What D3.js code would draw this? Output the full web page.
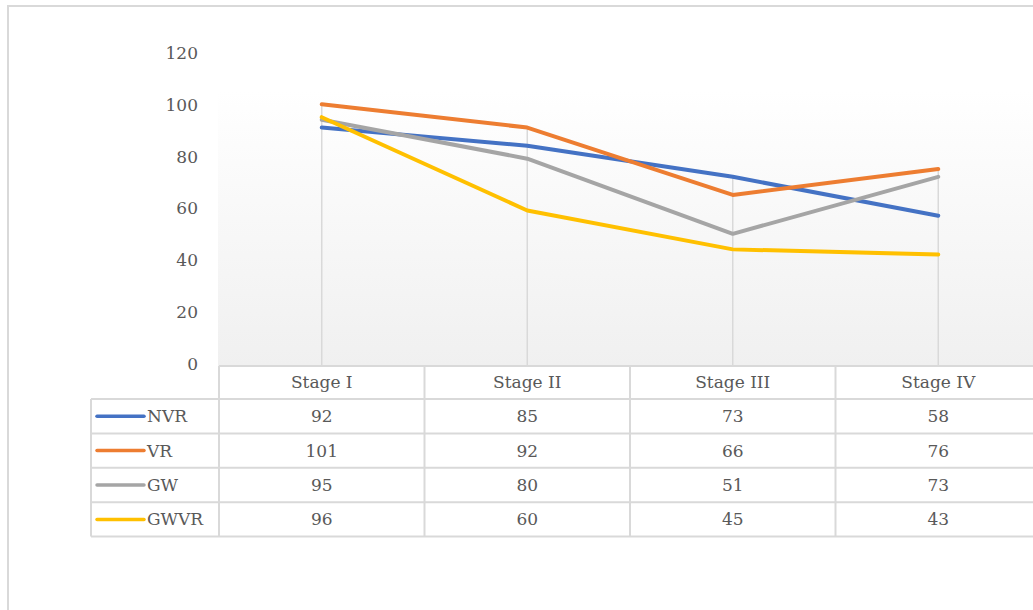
<!DOCTYPE html>
<html>
<head>
<meta charset="utf-8">
<script src="https://cdn.jsdelivr.net/npm/d3@7"></script>
<style>
  html, body { margin: 0; padding: 0; background: #fff; }
  text { font-family: "DejaVu Serif", "Liberation Serif", serif; fill: #595959; }
</style>
</head>
<body>
<div id="chart"></div>
<script>
// chart data
var stages = ["Stage I", "Stage II", "Stage III", "Stage IV"];
var seriesNames = ["NVR", "VR", "GW", "GWVR"];
var seriesColors = ["#4472C4", "#ED7D31", "#A5A5A5", "#FFC000"];
var nvr = [92, 85, 73, 58];
var vr = [101, 92, 66, 76];
var gw = [95, 80, 51, 73];
var gwvr = [96, 60, 45, 43];
var yTicks = [0, 20, 40, 60, 80, 100, 120];

var values = [nvr, vr, gw, gwvr];
var W = 1033, H = 610;
var gridColor = "#d9d9d9";

var svg = d3.select("#chart").append("svg")
    .attr("width", W).attr("height", H);

// outer chart frame
svg.append("rect")
    .attr("x", 8).attr("y", 6)
    .attr("width", W + 20).attr("height", H + 20)
    .attr("fill", "#fff")
    .attr("stroke", gridColor).attr("stroke-width", 2);

var x = d3.scaleBand().domain(stages).range([219, 1041]);
var y = d3.scaleLinear().domain([0, 120]).range([366, 55]);

// plot area gradient
var grad = svg.append("defs").append("linearGradient")
    .attr("id", "pa").attr("x1", 0).attr("y1", 0).attr("x2", 0).attr("y2", 1);
grad.append("stop").attr("offset", "0%").attr("stop-color", "#ffffff");
grad.append("stop").attr("offset", "100%").attr("stop-color", "#f0f0f0");

svg.append("rect")
    .attr("x", 218).attr("y", 90)
    .attr("width", 1041 - 218).attr("height", y(0) - 90)
    .attr("fill", "url(#pa)");

// y axis labels
svg.append("g").selectAll("text")
  .data(yTicks)
  .enter().append("text")
    .attr("x", 198)
    .attr("y", function(d) { return y(d) - 2; })
    .attr("dy", "0.35em")
    .attr("text-anchor", "end")
    .style("font-size", "17px")
    .text(function(d) { return d; });

// drop lines
svg.append("g").selectAll("line")
  .data(stages)
  .enter().append("line")
    .attr("x1", function(d) { return x(d) + x.bandwidth() / 2; })
    .attr("x2", function(d) { return x(d) + x.bandwidth() / 2; })
    .attr("y1", function(d, i) { return y(d3.max(values, function(s) { return s[i]; })); })
    .attr("y2", y(0))
    .attr("stroke", gridColor).attr("stroke-width", 1.5);

// series lines
var line = d3.line()
    .x(function(d, i) { return x(stages[i]) + x.bandwidth() / 2; })
    .y(function(d) { return y(d); });

svg.append("g").selectAll("path")
  .data(values)
  .enter().append("path")
    .attr("d", line)
    .attr("fill", "none")
    .attr("stroke", function(d, i) { return seriesColors[i]; })
    .attr("stroke-width", 4)
    .attr("stroke-linejoin", "round")
    .attr("stroke-linecap", "round");

// data table
var headTop = 366, headH = 33, rowH = 34.4;
var legLeft = 91, tabRight = 1041;
var tab = svg.append("g");
var rowsBottom = headTop + headH + rowH * values.length;

// horizontal lines
tab.append("line")
    .attr("x1", 219).attr("x2", tabRight)
    .attr("y1", headTop).attr("y2", headTop);
d3.range(values.length + 1).forEach(function(k) {
  var yy = headTop + headH + rowH * k;
  tab.append("line")
      .attr("x1", legLeft).attr("x2", tabRight)
      .attr("y1", yy).attr("y2", yy);
});
// vertical lines
tab.append("line")
    .attr("x1", legLeft).attr("x2", legLeft)
    .attr("y1", headTop + headH).attr("y2", rowsBottom);
stages.forEach(function(s) {
  tab.append("line")
      .attr("x1", x(s)).attr("x2", x(s))
      .attr("y1", headTop).attr("y2", rowsBottom);
});
tab.selectAll("line")
    .attr("stroke", gridColor).attr("stroke-width", 2);

// header text
tab.selectAll("text.head")
  .data(stages)
  .enter().append("text")
    .attr("class", "head")
    .attr("x", function(d) { return x(d) + x.bandwidth() / 2; })
    .attr("y", headTop + headH / 2)
    .attr("dy", "0.35em")
    .attr("text-anchor", "middle")
    .style("font-size", "17px")
    .text(function(d) { return d; });

// rows
values.forEach(function(s, r) {
  var cy = headTop + headH + rowH * r + rowH / 2;
  tab.append("line")
      .attr("x1", 97).attr("x2", 144)
      .attr("y1", cy).attr("y2", cy)
      .attr("stroke", seriesColors[r]).attr("stroke-width", 3.5)
      .attr("stroke-linecap", "round");
  tab.append("text")
      .attr("x", 147).attr("y", cy)
      .attr("dy", "0.35em")
      .style("font-size", "17px")
      .text(seriesNames[r]);
  tab.selectAll(null)
    .data(s)
    .enter().append("text")
      .attr("x", function(d, i) { return x(stages[i]) + x.bandwidth() / 2; })
      .attr("y", cy)
      .attr("dy", "0.35em")
      .attr("text-anchor", "middle")
      .style("font-size", "17px")
      .text(function(d) { return d; });
});
</script>
</body>
</html>
